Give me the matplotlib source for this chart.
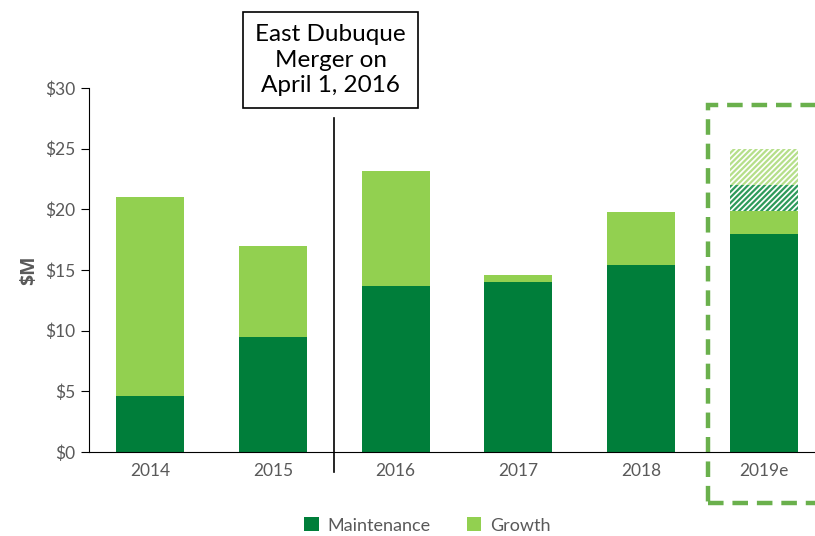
import matplotlib.pyplot as plt
import matplotlib.patches as patches
import numpy as np

plt.rcParams['font.family'] = ['Lato', 'DejaVu Sans']

years = ['2014', '2015', '2016', '2017', '2018', '2019e']
maintenance = [4.6, 9.5, 13.7, 14.0, 15.4, 18.0]
growth = [16.4, 7.5, 9.5, 0.6, 4.4, 1.9]
# 2019e estimate range, hatched on top of the solid bars
est_low = 2.1
est_high = 3.0

dark_green = '#007E3A'
light_green = '#92D050'
gray = '#595959'

fig = plt.figure(figsize=(8.15, 5.36), dpi=100)
ax = fig.add_axes([0.1092, 0.1567, 0.903, 0.679])

x = np.arange(len(years))
width = 0.555
ax.bar(x, maintenance, width, color=dark_green, label='Maintenance')
ax.bar(x, growth, width, bottom=maintenance, color=light_green, label='Growth')

# hatched estimate on 2019e
base = maintenance[-1] + growth[-1]
plt.rcParams['hatch.linewidth'] = 1.6
ax.bar(x[-1], est_low, width, bottom=base, facecolor='white',
       edgecolor='#2E9A5A', hatch='//////', linewidth=0)
ax.bar(x[-1], est_high, width, bottom=base + est_low, facecolor='white',
       edgecolor='#B5DF8A', hatch='//////', linewidth=0)

ax.set_xlim(-0.5, 5.5)
ax.set_ylim(0, 30)
ax.set_yticks(range(0, 31, 5))
ax.set_yticklabels(['$%d' % v for v in range(0, 31, 5)])
ax.set_xticks(x)
ax.set_xticklabels(years)
ax.tick_params(axis='y', length=6, color='black', labelsize=12.5, labelcolor=gray, pad=4)
ax.tick_params(axis='x', length=0, labelsize=12.5, labelcolor=gray, pad=8)
ax.set_ylabel('$M', fontsize=14, fontweight='bold', color=gray, labelpad=4,
              family=['Open Sans', 'DejaVu Sans'])
for s in ['top', 'right']:
    ax.spines[s].set_visible(False)
ax.spines['left'].set_color('black')
ax.spines['bottom'].set_color('black')

# merger divider and callout
ax.plot([1.5, 1.5], [-1.65, 27.5], color='black', lw=1.2, clip_on=False)
ax.text(1.47, 32.3, 'East Dubuque\nMerger on\nApril 1, 2016', ha='center', va='center',
        fontsize=17.5, color='black', linespacing=1.25,
        bbox=dict(boxstyle='square,pad=0.5', facecolor='white', edgecolor='black', lw=1.2))

# dashed box around the estimate year
rect = patches.Rectangle((4.55, -4.2), 1.2, 32.8, fill=False, edgecolor='#6AB04C',
                         lw=3.2, linestyle=(0, (3.5, 2)), clip_on=False)
ax.add_patch(rect)

ax.legend(loc='upper center', bbox_to_anchor=(0.46, -0.135), ncol=2, frameon=False,
          fontsize=13, labelcolor=gray, handlelength=0.8, handleheight=0.8,
          columnspacing=2.0, handletextpad=0.5)

fig.savefig('out.png', dpi=100)
